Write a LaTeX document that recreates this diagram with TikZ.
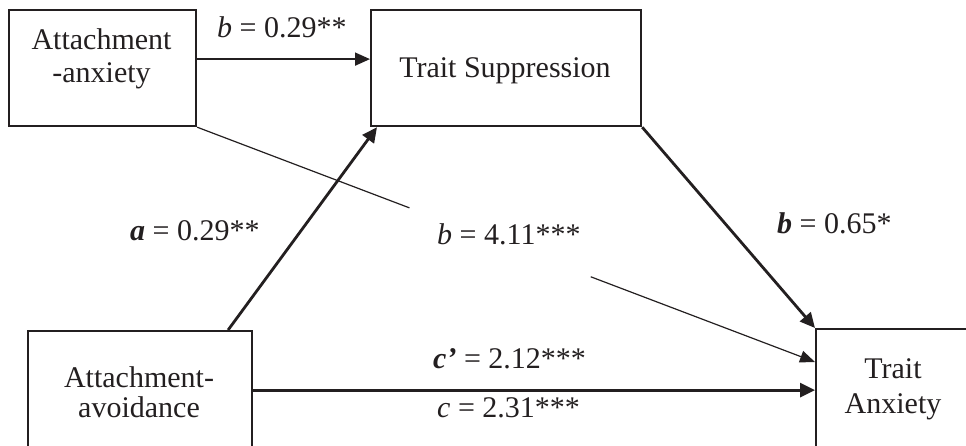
\documentclass[tikz,border=0pt]{standalone}
\usepackage{fontspec}
\setmainfont{Liberation Serif}
\usetikzlibrary{arrows.meta,calc}
\definecolor{ink}{HTML}{231F20}
\begin{document}
\begin{tikzpicture}[x=1pt,y=-1pt,
  box/.style={draw=ink, line width=2.2pt, inner sep=0pt, anchor=north west},
  boxtext/.style={text=ink, inner sep=0pt, align=center},
  lab/.style={text=ink, font=\fontsize{30}{36}\selectfont, inner sep=0pt, anchor=base west},
  heavyarrow/.style={draw=ink, line width=2.8pt, -{Triangle[length=15pt,width=14pt]}},
  midarrow/.style={draw=ink, line width=1.8pt, -{Triangle[length=15pt,width=13pt]}},
  thinline/.style={draw=ink, line width=1.2pt},
  thinarrow/.style={thinline, -{Triangle[length=15pt,width=12pt]}}
]
\useasboundingbox (0,0) rectangle (966,445);

% boxes
\node[box, minimum width=187pt, minimum height=116pt] (anx) at (8,9) {};
\node[box, minimum width=270pt, minimum height=116pt] (sup) at (370,9) {};
\node[box, minimum width=224pt, minimum height=124pt] (avo) at (27,330) {};
\node[box, minimum width=156pt, minimum height=122pt] (tax) at (815,328) {};

% box texts
\node[boxtext, font=\fontsize{30}{33}\selectfont] (anxt) at (101.5,58.5) {Attachment\\-anxiety};
\node[boxtext, font=\fontsize{30}{36}\selectfont, anchor=base] (supt) at (505,77) {Trait Suppression};
\node[boxtext, font=\fontsize{30}{29.5}\selectfont] (avot) at (139,392) {Attachment-\\avoidance};
\node[boxtext, font=\fontsize{30}{35}\selectfont] (taxt) at (893,389) {Trait\\Anxiety};

% connectors
\draw[midarrow] ([yshift=9pt]anx.east) -- ([yshift=9pt]sup.west);
\draw[heavyarrow] ([xshift=88pt]avo.north) -- ([xshift=7pt]sup.south west);
\draw[heavyarrow] (sup.south east) -- (tax.north west);
\draw[heavyarrow] ([yshift=3pt]avo.east) -- ([yshift=3pt]avo.east -| tax.west);
\coordinate (t411) at ([yshift=-34pt]tax.north west);
\draw[thinline] (anx.south east) -- ($(anx.south east)!0.3435!(t411)$);
\draw[thinarrow] ($(anx.south east)!0.637!(t411)$) -- (t411);

% labels
\node[lab] (l1) at (217,37) {\textit{b} = 0.29**};
\node[lab] (l2) at (130,240) {\textbf{\textit{a}} = 0.29**};
\node[lab] (l3) at (437,244) {\textit{b} = 4.11***};
\node[lab] (l4) at (777,233) {\textbf{\textit{b}} = 0.65*};
\node[lab] (l5) at (433,368) {\textbf{\textit{c’}} = 2.12***};
\node[lab] (l6) at (437,417) {\textit{c} = 2.31***};
\end{tikzpicture}
\end{document}
